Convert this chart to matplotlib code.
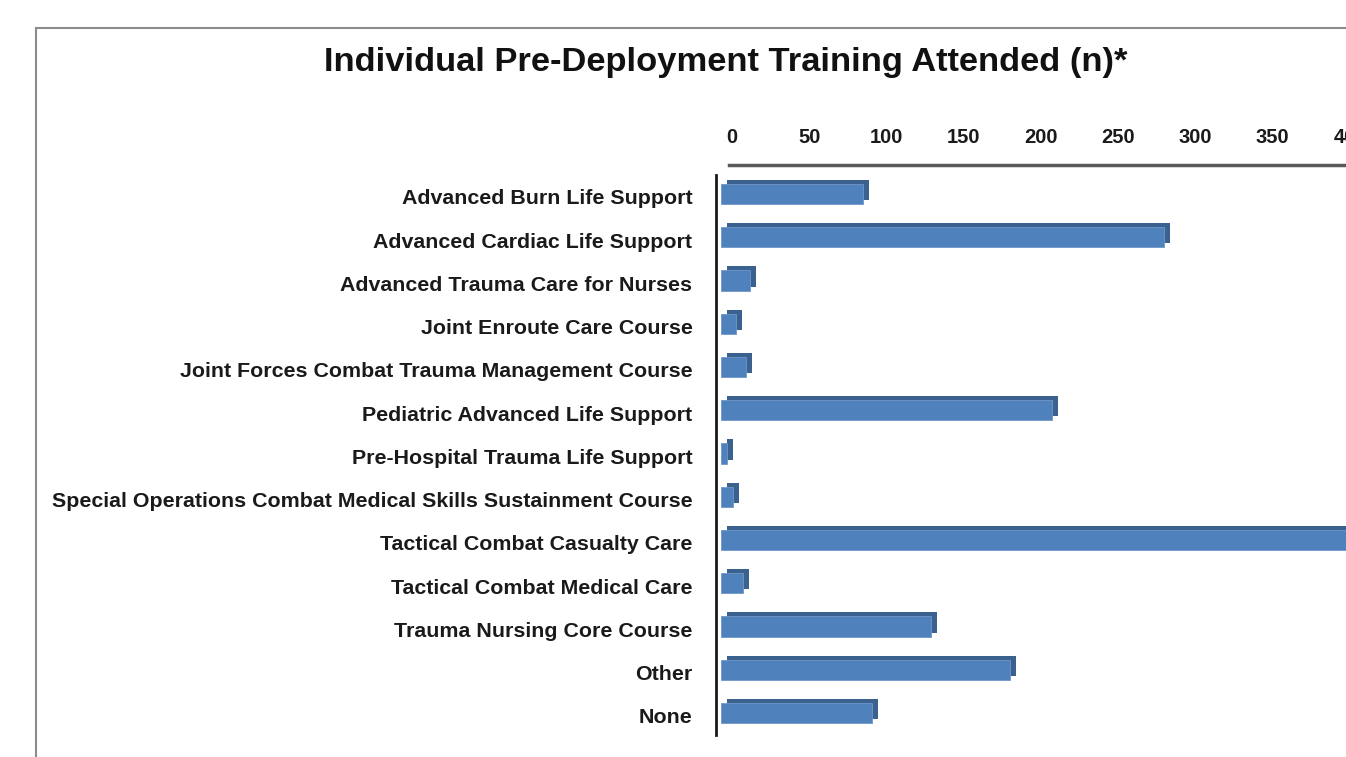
import matplotlib
matplotlib.use("Agg")
import matplotlib.pyplot as plt
from matplotlib.transforms import ScaledTranslation
from matplotlib.patches import Rectangle

categories = [
    "Advanced Burn Life Support",
    "Advanced Cardiac Life Support",
    "Advanced Trauma Care for Nurses",
    "Joint Enroute Care Course",
    "Joint Forces Combat Trauma Management Course",
    "Pediatric Advanced Life Support",
    "Pre-Hospital Trauma Life Support",
    "Special Operations Combat Medical Skills Sustainment Course",
    "Tactical Combat Casualty Care",
    "Tactical Combat Medical Care",
    "Trauma Nursing Core Course",
    "Other",
    "None",
]
values = [92, 287, 19, 10, 16, 214, 4, 8, 405, 14, 136, 187, 98]
xticks = [0, 50, 100, 150, 200, 250, 300, 350, 400]
title = "Individual Pre-Deployment Training Attended (n)*"

FONT = ["Liberation Sans Narrow", "Liberation Sans", "DejaVu Sans"]
plt.rcParams["font.family"] = FONT

W, H, DPI = 1346, 757, 100
fig = plt.figure(figsize=(W / DPI, H / DPI), dpi=DPI)

# outer chart frame (cropped)
fig.patches.append(Rectangle((36 / W, -0.1), 1.2, 1.1 - 28 / H, transform=fig.transFigure,
                             fill=False, edgecolor="#8c8c8c", linewidth=1.5))

left_px, right_px = 716, 1400
top_px, bot_px = 165, 735
ax = fig.add_axes([left_px / W, 1 - bot_px / H, (right_px - left_px) / W, (bot_px - top_px) / H])

scale = 1.545  # px per unit
zero_px = 732
ax.set_xlim(-(zero_px - left_px) / scale, (right_px - zero_px) / scale)
n = len(categories)
ax.set_ylim(12.51, -0.67)

ypos = list(range(n))
front = ax.transData + ScaledTranslation(-11 / DPI, 0, fig.dpi_scale_trans)
back = ax.transData + ScaledTranslation(-5 / DPI, 4 / DPI, fig.dpi_scale_trans)
ax.barh(ypos, values, height=0.47, color="#3b628f", transform=back, zorder=2)
ax.barh(ypos, values, height=0.47, color="#4f81bd", edgecolor="#6f97c8", linewidth=0.6,
        transform=front, zorder=3)

ax.set_yticks(ypos)
ax.set_yticklabels(categories, fontsize=15.4, fontweight="bold", color="#1a1a1a")
ax.tick_params(axis="y", length=0, pad=17)
shift = ScaledTranslation(0, -3 / DPI, fig.dpi_scale_trans)
for lbl in ax.get_yticklabels():
    lbl.set_transform(lbl.get_transform() + shift)

ax.xaxis.tick_top()
ax.set_xticks(xticks)
ax.set_xticklabels([str(t) for t in xticks], fontsize=14.5, fontweight="bold", color="#1a1a1a")
ax.tick_params(axis="x", length=0, pad=13)

for s in ["right", "bottom"]:
    ax.spines[s].set_visible(False)
ax.spines["top"].set_color("#5a5a5a")
ax.spines["top"].set_linewidth(2.5)
ax.spines["top"].set_bounds(-2, 500)
ax.spines["left"].set_color("#1a1a1a")
ax.spines["left"].set_linewidth(2)
ax.spines["left"].set_bounds(-0.44, 12.51)

fig.text(726 / W, 1 - 63 / H, title, ha="center", va="center", fontsize=24.8,
         fontweight="bold", color="#111111")

fig.savefig("out.png", dpi=DPI)
